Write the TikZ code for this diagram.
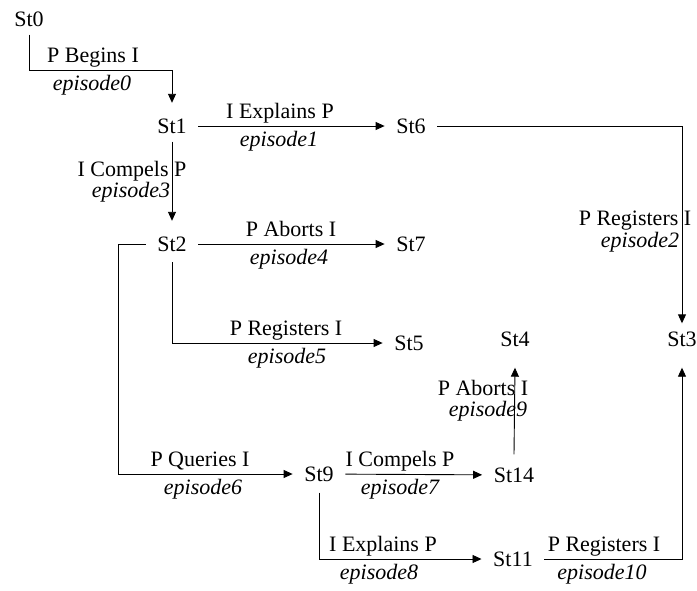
\documentclass[tikz,border=0pt]{standalone}
\usepackage{fontspec}
\setmainfont{Liberation Serif}
\usetikzlibrary{arrows.meta}
\begin{document}
\begin{tikzpicture}[x=1pt,y=-1pt,
  every node/.style={font=\fontsize{22}{22}\selectfont},
  st/.style={inner xsep=11.5pt, inner ysep=8pt, text height=15pt, text depth=0pt},
  lab/.style={anchor=base, inner sep=0pt},
  ep/.style={lab, font=\fontsize{22}{22}\selectfont\itshape},
  arr/.style={line width=0.9pt, -{Triangle[length=9pt,width=8pt]}}]
\useasboundingbox (0,0) rectangle (697,590);
% states
\node[st] (St0)  at (29,19)   {St0};
\node[st] (St1)  at (172,126) {St1};
\node[st] (St6)  at (411,126) {St6};
\node[st] (St2)  at (172,244) {St2};
\node[st] (St7)  at (411,244) {St7};
\node[st] (St5)  at (409,343) {St5};
\node[st] (St4)  at (515,339) {St4};
\node[st] (St3)  at (682,339) {St3};
\node[st] (St9)  at (319,474) {St9};
\node[st] (St14) at (514,475) {St14};
\node[st] (St11) at (513,559) {St11};
\coordinate (c0) at (29,70);
% connectors
\draw[arr] (St0.south) -- (c0) -| ([yshift=7.5pt]St1.north);
\draw[arr] (St1) -- (St6);
\draw[arr] (St6.east) -| (St3.north);
\draw[arr] (St1.south) -- ([yshift=7.5pt]St2.north);
\draw[arr] (St2) -- (St7);
\draw[arr] ([yshift=-2.5pt]St2.south) |- (St5.west);
\draw[arr] (St2.west) -- ++(-27,0) |- (St9.west);
\draw[arr] (St9) -- (St14);
\draw[arr] ([yshift=5pt]St14.north) -- ([yshift=-13pt]St4.south);
\draw[arr] ([yshift=-3pt]St9.south) |- (St11.west);
\draw[arr] (St11.east) -| ([yshift=-13pt]St3.south);
% labels
\node[lab] (l0a) at (93,62.5) {P Begins I};
\node[ep]  (l0b) at (92,90) {episode0};
\node[lab] (l1a) at (280,118.5) {I Explains P};
\node[ep]  (l1b) at (279,146) {episode1};
\node[lab] (l2a) at (635,225) {P Registers I};
\node[ep]  (l2b) at (640,247) {episode2};
\node[lab] (l3a) at (132,176) {I Compels P};
\node[ep]  (l3b) at (131,197) {episode3};
\node[lab] (l4a) at (291,236.5) {P Aborts I};
\node[ep]  (l4b) at (289,264) {episode4};
\node[lab] (l5a) at (286,335.5) {P Registers I};
\node[ep]  (l5b) at (287,363) {episode5};
\node[lab] (l6a) at (200,466.5) {P Queries I};
\node[ep]  (l6b) at (203,494) {episode6};
\node[lab] (l7a) at (400,466.5) {I Compels P};
\node[ep]  (l7b) at (400,494) {episode7};
\node[lab] (l8a) at (383,551.5) {I Explains P};
\node[ep]  (l8b) at (379,579) {episode8};
\node[lab] (l9a) at (483,395) {P Aborts I};
\node[ep]  (l9b) at (488,416) {episode9};
\node[lab] (l10a) at (604,551.5) {P Registers I};
\node[ep]  (l10b) at (602,579) {episode10};
\end{tikzpicture}
\end{document}
